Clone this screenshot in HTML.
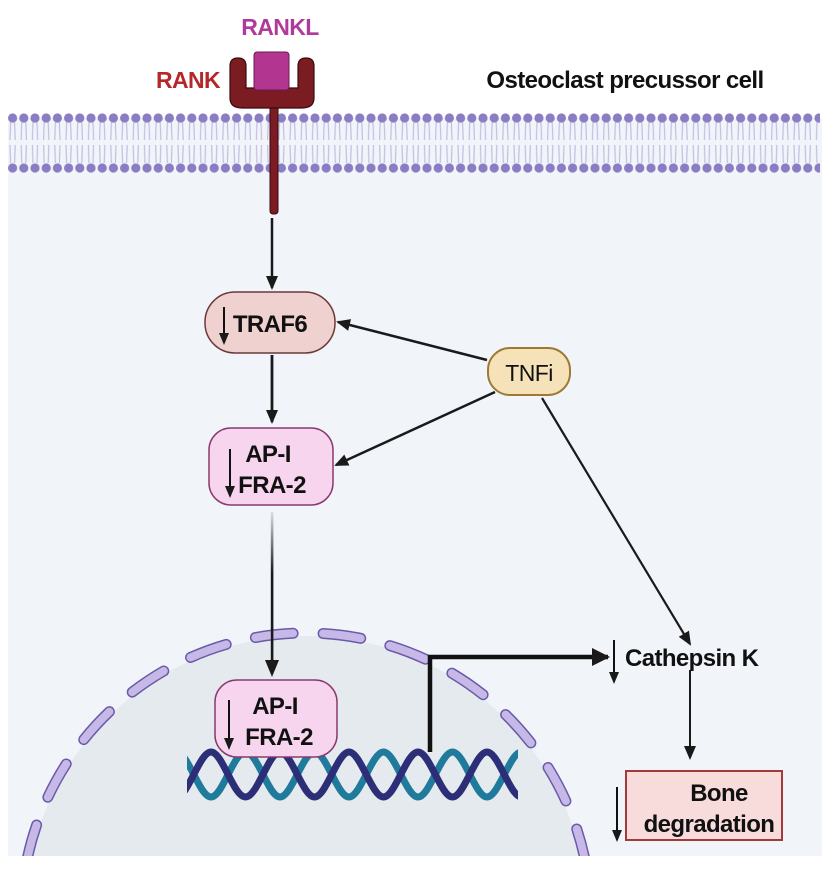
<!DOCTYPE html>
<html><head><meta charset="utf-8"><style>
html,body{margin:0;padding:0;background:#fff;width:827px;height:869px;overflow:hidden}
svg{display:block;position:absolute;left:0;top:0}
text{font-family:"Liberation Sans",Arial,sans-serif;font-weight:bold;letter-spacing:-0.6px}
</style></head><body>
<svg width="827" height="869" viewBox="0 0 827 869" xmlns="http://www.w3.org/2000/svg">
<defs>
<pattern id="lip" x="7" y="0" width="11.2" height="869" patternUnits="userSpaceOnUse">
<path d="M3.6 122 L3 140 M7.6 122 L8.2 140 M3 145 L3.6 163 M8.2 145 L7.6 163" stroke="#c3bde3" stroke-width="1.2" fill="none"/>
<circle cx="5.6" cy="118" r="4.6" fill="#8a7dc4"/>
<circle cx="5.6" cy="168" r="4.6" fill="#8a7dc4"/>
</pattern>
<marker id="ah" markerWidth="14" markerHeight="14" refX="12" refY="7" orient="auto" markerUnits="userSpaceOnUse" viewBox="0 0 14 14">
<path d="M0 1 L14 7 L0 13 Z" fill="#1a1a1a"/></marker>
<marker id="ahs" markerWidth="12" markerHeight="12" refX="10" refY="6" orient="auto" markerUnits="userSpaceOnUse" viewBox="0 0 12 12">
<path d="M0 1 L12 6 L0 11 Z" fill="#1a1a1a"/></marker>
<marker id="ahb" markerWidth="18" markerHeight="18" refX="16" refY="9" orient="auto" markerUnits="userSpaceOnUse" viewBox="0 0 18 18">
<path d="M0 0 L18 9 L0 18 Z" fill="#1a1a1a"/></marker>
<linearGradient id="fade" x1="0" y1="0" x2="0" y2="1"><stop offset="0" stop-color="#1a1a1a" stop-opacity="0.1"/><stop offset="0.4" stop-color="#1a1a1a"/></linearGradient>
<clipPath id="cl"><rect x="0" y="0" width="822" height="856"/></clipPath>
<clipPath id="dna"><rect x="187" y="740" width="331" height="70"/></clipPath>
</defs>
<rect x="0" y="0" width="827" height="869" fill="#fff"/>
<rect x="8" y="118" width="814" height="738" fill="#f1f4f9"/>
<g clip-path="url(#cl)">
<circle cx="306" cy="918" r="282" fill="#e5eaef"/>
<circle cx="306" cy="918" r="285" fill="none" stroke="#6a5aa8" stroke-width="11" stroke-linecap="round" stroke-dasharray="38 30"/>
<circle cx="306" cy="918" r="285" fill="none" stroke="#c6b9e8" stroke-width="8" stroke-linecap="round" stroke-dasharray="38 30"/>
</g>
<rect x="8" y="110" width="812" height="65" fill="url(#lip)"/>
<!-- receptor -->
<rect x="270" y="100" width="8" height="114" rx="3" fill="#7b1c22" stroke="#3a0a0e" stroke-width="1"/>
<path d="M238 58 Q230 58 230 66 L230 98 Q230 108 242 108 L302 108 Q314 108 314 98 L314 66 Q314 58 306 58 Q298 58 298 66 L298 88 L246 88 L246 66 Q246 58 238 58 Z" fill="#7b1c22" stroke="#3a0a0e" stroke-width="1.2"/>
<rect x="254" y="52" width="35" height="38" rx="3" fill="#b2358f" stroke="#6a1a55" stroke-width="1"/>
<text x="280" y="35" font-size="23" fill="#b03a9a" text-anchor="middle">RANKL</text>
<text x="188" y="88" font-size="23" fill="#b5282a" text-anchor="middle">RANK</text>
<text x="625" y="88" font-size="24" fill="#111" text-anchor="middle">Osteoclast precussor cell</text>
<!-- arrows -->
<line x1="272" y1="218" x2="272" y2="288" stroke="#1a1a1a" stroke-width="2.5" marker-end="url(#ah)"/>
<line x1="272" y1="355" x2="272" y2="422" stroke="#1a1a1a" stroke-width="2.8" marker-end="url(#ah)"/>
<rect x="270.8" y="512" width="2.6" height="152" fill="url(#fade)"/>
<path d="M265 660 L279 660 L272 677 Z" fill="#1a1a1a"/>
<line x1="487" y1="360" x2="338" y2="322" stroke="#1a1a1a" stroke-width="2.5" marker-end="url(#ah)"/>
<line x1="495" y1="392" x2="336" y2="465" stroke="#1a1a1a" stroke-width="2.5" marker-end="url(#ah)"/>
<line x1="542" y1="398" x2="690" y2="644" stroke="#1a1a1a" stroke-width="2.2" marker-end="url(#ah)"/>
<line x1="690" y1="670" x2="690" y2="758" stroke="#1a1a1a" stroke-width="2" marker-end="url(#ah)"/>
<!-- boxes -->
<rect x="205" y="292" width="130" height="61" rx="30" fill="#efd2cf" stroke="#6b3838" stroke-width="1.5"/>
<text x="270" y="332" font-size="24" fill="#111" text-anchor="middle">TRAF6</text>
<line x1="224" y1="307" x2="224" y2="343" stroke="#111" stroke-width="2" marker-end="url(#ahs)"/>
<rect x="488" y="348" width="82" height="47" rx="22" fill="#f6e2b8" stroke="#9c7a33" stroke-width="2"/>
<text x="529" y="381" font-size="23" fill="#111" text-anchor="middle" style="font-weight:normal">TNFi</text>
<rect x="209" y="428" width="124" height="77" rx="22" fill="#f7d5ee" stroke="#8a3a6e" stroke-width="1.5"/>
<text x="268" y="462" font-size="24" fill="#111" text-anchor="middle">AP-I</text>
<text x="272" y="493" font-size="24" fill="#111" text-anchor="middle">FRA-2</text>
<line x1="230" y1="449" x2="230" y2="496" stroke="#111" stroke-width="2" marker-end="url(#ahs)"/>
<!-- DNA -->
<g fill="none" stroke-width="7" clip-path="url(#dna)">
<path d="M176.5 752 C188 752 199.5 797 211 797 S233.5 752 245.5 752 S268.5 797 280 797 S303 752 314.5 752 S337.5 797 349 797 S372 752 383.5 752 S406.5 797 418 797 S441 752 452.5 752 S475.5 797 487 797 S510 752 521.5 752" stroke="#1f7a9c"/>
<path d="M176.5 797 C188 797 199.5 752 211 752 S233.5 797 245.5 797 S268.5 752 280 752 S303 797 314.5 797 S337.5 752 349 752 S372 797 383.5 797 S406.5 752 418 752 S441 797 452.5 797 S475.5 752 487 752 S510 797 521.5 797" stroke="#2d2e78"/>
</g>
<rect x="215" y="680" width="122" height="77" rx="22" fill="#f7d5ee" stroke="#8a3a6e" stroke-width="1.5"/>
<text x="275" y="714" font-size="24" fill="#111" text-anchor="middle">AP-I</text>
<text x="279" y="745" font-size="24" fill="#111" text-anchor="middle">FRA-2</text>
<line x1="229" y1="700" x2="229" y2="748" stroke="#111" stroke-width="2" marker-end="url(#ahs)"/>
<path d="M430 752 L430 657 L608 657" fill="none" stroke="#111" stroke-width="4.5" marker-end="url(#ahb)"/>
<line x1="614" y1="640" x2="614" y2="682" stroke="#111" stroke-width="2" marker-end="url(#ahs)"/>
<text x="625" y="666" font-size="24" fill="#111">Cathepsin K</text>
<rect x="626" y="771" width="156" height="69" fill="#f8dbdb" stroke="#a33a3a" stroke-width="2"/>
<text x="719" y="801" font-size="24" fill="#111" text-anchor="middle">Bone</text>
<text x="709" y="832" font-size="24" fill="#111" text-anchor="middle">degradation</text>
<line x1="617" y1="787" x2="617" y2="840" stroke="#111" stroke-width="2" marker-end="url(#ahs)"/>
</svg>
</body></html>
